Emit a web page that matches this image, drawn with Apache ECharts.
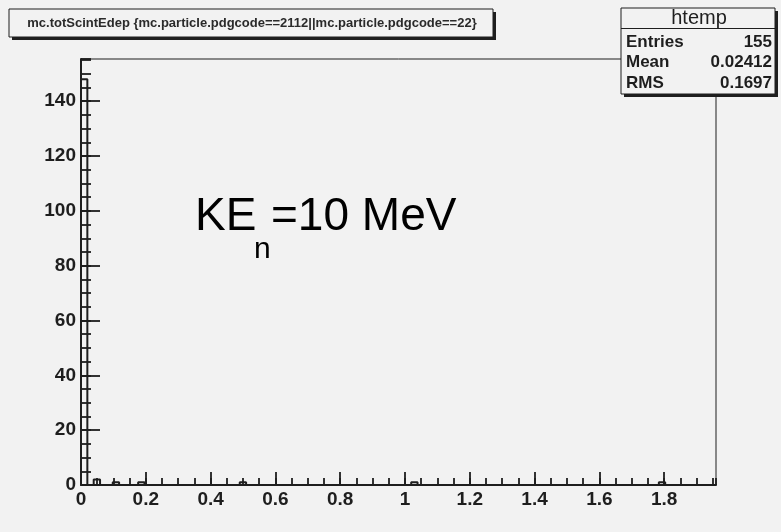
<!DOCTYPE html>
<html>
<head>
<meta charset="utf-8">
<script src="https://cdn.jsdelivr.net/npm/echarts@6/dist/echarts.min.js"></script>
<style>
html,body{margin:0;padding:0;background:#f2f2f2;}
#chart{width:781px;height:532px;}
</style>
</head>
<body>
<div id="chart"></div>
<script>
// Histogram definition
const xMin = 0;
const xMax = 1.96;
const nBins = 100;
const yMax = 155.4;
// bin contents (100 bins)
const counts = [
  148,0,2,0,0,1,0,0,0,1,
  0,0,0,0,0,0,0,0,0,0,
  0,0,0,0,0,1,0,0,0,0,
  0,0,0,0,0,0,0,0,0,0,
  0,0,0,0,0,0,0,0,0,0,
  0,0,1,0,0,0,0,0,0,0,
  0,0,0,0,0,0,0,0,0,0,
  0,0,0,0,0,0,0,0,0,0,
  0,0,0,0,0,0,0,0,0,0,
  0,1,0,0,0,0,0,0,0,0
];
const titleText = "mc.totScintEdep {mc.particle.pdgcode==2112||mc.particle.pdgcode==22}";
const statsName = "htemp";
const statsLabels = ["Entries", "Mean", "RMS"];
const statsValues = ["155", "0.02412", "0.1697"];
const xMajor = 0.2, xMinor = 0.05;
const yMajor = 20, yMinor = 5;

const bw = (xMax - xMin) / nBins;
const stepData = [[xMin, 0]];
counts.forEach((c, i) => stepData.push([xMin + i * bw, c]));
stepData.push([xMax, 0]);

const dark = '#1e1e1e';
const labelFont = {fontFamily: 'Liberation Sans, Arial, sans-serif', fontWeight: 'bold', fontSize: 19, color: dark};

const chart = echarts.init(document.getElementById('chart'), null, {renderer: 'canvas'});

const statsGraphics = [];
const rowY = [42, 62, 83];
statsLabels.forEach((l, i) => {
  statsGraphics.push({type: 'text', z: 110, style: {x: 626, y: rowY[i], text: l, font: 'bold 17px "Liberation Sans", Arial, sans-serif', fill: dark, textAlign: 'left', textVerticalAlign: 'middle'}});
  statsGraphics.push({type: 'text', z: 110, style: {x: 772, y: rowY[i], text: statsValues[i], font: 'bold 17px "Liberation Sans", Arial, sans-serif', fill: dark, textAlign: 'right', textVerticalAlign: 'middle'}});
});

chart.setOption({
  animation: false,
  backgroundColor: '#f2f2f2',
  grid: {left: 81, top: 59, right: 65, bottom: 47, show: true, borderColor: dark, borderWidth: 1, backgroundColor: 'transparent'},
  xAxis: [
    {type: 'value', min: xMin, max: xMax, interval: xMajor, position: 'bottom',
     axisLine: {show: true, onZero: false, lineStyle: {color: dark, width: 2}},
     axisTick: {show: true, inside: true, length: 13, lineStyle: {color: dark, width: 1.8}},
     axisLabel: Object.assign({show: true, margin: 5, showMaxLabel: false}, labelFont),
     splitLine: {show: false}},
    {type: 'value', min: xMin, max: xMax, interval: xMinor, position: 'bottom',
     axisLine: {show: false},
     axisTick: {show: true, inside: true, length: 7, lineStyle: {color: dark, width: 1.8}},
     axisLabel: {show: false}, splitLine: {show: false}}
  ],
  yAxis: [
    {type: 'value', min: 0, max: yMax, interval: yMajor, position: 'left',
     axisLine: {show: true, onZero: false, lineStyle: {color: dark, width: 2}},
     axisTick: {show: true, inside: true, length: 19, lineStyle: {color: dark, width: 1.8}},
     axisLabel: Object.assign({show: true, margin: 5, showMaxLabel: false}, labelFont),
     splitLine: {show: false}},
    {type: 'value', min: 0, max: yMax, interval: yMinor, position: 'left',
     axisLine: {show: false},
     axisTick: {show: true, inside: true, length: 10, lineStyle: {color: dark, width: 1.8}},
     axisLabel: {show: false}, splitLine: {show: false}}
  ],
  series: [{
    type: 'line', step: 'end', xAxisIndex: 0, yAxisIndex: 0,
    data: stepData, symbol: 'none', clip: false,
    lineStyle: {color: dark, width: 2}
  }],
  graphic: [
    // title box
    {type: 'rect', z: 100, shape: {x: 12, y: 12, width: 484, height: 28}, style: {fill: dark}},
    {type: 'rect', z: 101, shape: {x: 9, y: 9, width: 484, height: 28}, style: {fill: '#f2f2f2', stroke: dark, lineWidth: 1}},
    {type: 'text', z: 102, style: {x: 252, y: 23, text: titleText, font: 'bold 13px "Liberation Sans", Arial, sans-serif', fill: '#2a2a2a', textAlign: 'center', textVerticalAlign: 'middle'}},
    // stats box
    {type: 'rect', z: 100, shape: {x: 624, y: 11, width: 154, height: 86}, style: {fill: dark}},
    {type: 'rect', z: 101, shape: {x: 621, y: 8, width: 154, height: 86}, style: {fill: '#f2f2f2', stroke: dark, lineWidth: 1}},
    {type: 'line', z: 102, shape: {x1: 621, y1: 28.5, x2: 775, y2: 28.5}, style: {stroke: dark, lineWidth: 1}},
    {type: 'text', z: 110, style: {x: 699, y: 18, text: statsName, font: '20px "Liberation Sans", Arial, sans-serif', fill: dark, textAlign: 'center', textVerticalAlign: 'middle'}},
    ...statsGraphics,
    // annotation KE_n = 10 MeV
    {type: 'text', z: 110, style: {x: 195, y: 217, text: 'KE', font: '46px "Liberation Sans", Arial, sans-serif', fill: '#000', textAlign: 'left', textVerticalAlign: 'middle'}},
    {type: 'text', z: 110, style: {x: 254, y: 250, text: 'n', font: '30px "Liberation Sans", Arial, sans-serif', fill: '#000', textAlign: 'left', textVerticalAlign: 'middle'}},
    {type: 'text', z: 110, style: {x: 271, y: 217, text: '=10 MeV', font: '46px "Liberation Sans", Arial, sans-serif', fill: '#000', textAlign: 'left', textVerticalAlign: 'middle'}}
  ]
});
</script>
</body>
</html>
